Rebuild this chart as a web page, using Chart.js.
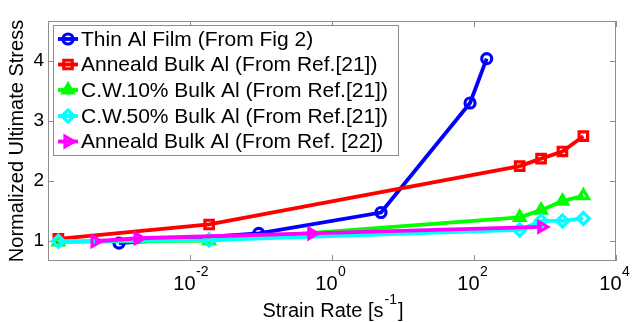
<!DOCTYPE html>
<html><head><meta charset="utf-8">
<script src="https://cdn.jsdelivr.net/npm/chart.js@4/dist/chart.umd.min.js"></script>
<style>html,body{margin:0;padding:0;background:#fff}#wrap{width:633px;height:322px}</style>
</head><body><div id="wrap"><canvas id="c" width="633" height="322"></canvas></div>
<script>
// ---- data ----
const seriesNames = [
  'Thin Al Film (From Fig 2)',
  'Anneald Bulk Al (From Ref.[21])',
  'C.W.10% Bulk Al (From Ref.[21])',
  'C.W.50% Bulk Al (From Ref.[21])',
  'Anneald Bulk Al (From Ref. [22])'
];
const thinFilmX = [0.001, 0.093, 4.9, 88, 151];
const thinFilmY = [0.96, 1.12, 1.47, 3.30, 4.04];
const annealed21X = [0.00014, 0.0186, 440, 880, 1760, 3470];
const annealed21Y = [1.03, 1.27, 2.245, 2.37, 2.49, 2.745];
const cw10X = [0.00014, 0.0186, 440, 880, 1760, 3470];
const cw10Y = [0.98, 1.0, 1.39, 1.51, 1.66, 1.75];
const cw50X = [0.00014, 0.0186, 440, 880, 1760, 3470];
const cw50Y = [0.99, 1.01, 1.18, 1.33, 1.33, 1.37];
const annealed22X = [0.00046, 0.00186, 0.52, 900];
const annealed22Y = [0.99, 1.04, 1.12, 1.23];
const xTickExponents = [-2, 0, 2, 4];
const yTickValues = [1, 2, 3, 4];
const xTitle = 'Strain Rate [s';
const xTitleSup = '-1';
const yTitle = 'Normalized Ultimate Stress';

const seriesX = [thinFilmX, annealed21X, cw10X, cw50X, annealed22X];
const seriesY = [thinFilmY, annealed21Y, cw10Y, cw50Y, annealed22Y];
const colors = ['#0000ff', '#ff0000', '#00ff00', '#00ffff', '#ff00ff'];
const styles = ['circle', 'rect', 'triangle', 'rectRot', 'triangle'];
const rotations = [0, 0, 0, 0, 90];
const radii = [5, 6, 6, 6, 6];
const MARKER_BW = 3.2;

const FONT = '"Liberation Sans", Arial, sans-serif';
const AXIS = '#8c8c8c';

const datasets = seriesNames.map((name, i) => ({
  label: name,
  data: seriesX[i].map((x, j) => ({x: x, y: seriesY[i][j]})),
  showLine: true,
  borderColor: colors[i],
  backgroundColor: colors[i],
  borderWidth: 3.8,
  pointStyle: styles[i],
  pointRotation: rotations[i],
  pointRadius: radii[i],
  pointBorderWidth: MARKER_BW,
  pointBorderColor: colors[i],
  pointBackgroundColor: 'rgba(0,0,0,0)',
  order: seriesNames.length - i
}));

const deco = {
  id: 'deco',
  beforeDatasetsDraw(chart) {
    const ctx = chart.ctx, a = chart.chartArea;
    const xs = chart.scales.x, ys = chart.scales.y;
    ctx.save();
    ctx.strokeStyle = AXIS;
    ctx.lineWidth = 1;
    ctx.strokeRect(Math.round(a.left) + 0.5, Math.round(a.top) + 0.5,
                   Math.round(a.right - a.left) - 1, Math.round(a.bottom - a.top) - 1);
    ctx.beginPath();
    xTickExponents.forEach(e => {
      const px = Math.round(xs.getPixelForValue(Math.pow(10, e))) + 0.5;
      ctx.moveTo(px, a.bottom); ctx.lineTo(px, a.bottom - 6);
      ctx.moveTo(px, a.top); ctx.lineTo(px, a.top + 6);
    });
    yTickValues.forEach(v => {
      const py = Math.round(ys.getPixelForValue(v)) + 0.5;
      ctx.moveTo(a.left, py); ctx.lineTo(a.left + 6, py);
      ctx.moveTo(a.right, py); ctx.lineTo(a.right - 6, py);
    });
    ctx.stroke();
    ctx.restore();
  },
  afterDraw(chart) {
    const ctx = chart.ctx, a = chart.chartArea;
    const xs = chart.scales.x;
    ctx.save();
    // x tick labels 10^e
    ctx.fillStyle = '#000';
    ctx.textBaseline = 'alphabetic';
    xTickExponents.forEach(e => {
      const px = xs.getPixelForValue(Math.pow(10, e));
      ctx.font = '20px ' + FONT;
      ctx.textAlign = 'right';
      ctx.fillText('10', px + 5.5, 290);
      ctx.font = '14px ' + FONT;
      ctx.textAlign = 'left';
      ctx.fillText(String(e), px + 6, 276);
    });
    // x title
    ctx.font = '20px ' + FONT;
    const w1 = ctx.measureText(xTitle).width;
    ctx.font = '14px ' + FONT;
    const w2 = ctx.measureText(xTitleSup).width;
    ctx.font = '20px ' + FONT;
    const w3 = ctx.measureText(']').width;
    const cx = (a.left + a.right) / 2;
    let sx = cx - (w1 + w2 + w3) / 2;
    ctx.textAlign = 'left';
    ctx.fillText(xTitle, sx, 317);
    ctx.font = '14px ' + FONT;
    ctx.fillText(xTitleSup, sx + w1 + 1, 304);
    ctx.font = '20px ' + FONT;
    ctx.fillText(']', sx + w1 + w2 + 2, 317);

    // legend
    const L = 53.5, T = 25.5, R = 398.5, B = 155.5;
    ctx.fillStyle = '#fff';
    ctx.fillRect(L, T, R - L, B - T);
    ctx.strokeStyle = AXIS;
    ctx.lineWidth = 1;
    ctx.strokeRect(L, T, R - L, B - T);
    const rowY = [39, 64.5, 90, 116, 141.5];
    seriesNames.forEach((name, i) => {
      const y = rowY[i];
      ctx.strokeStyle = colors[i];
      ctx.lineWidth = 3.8;
      ctx.beginPath();
      ctx.moveTo(58, y); ctx.lineTo(78, y);
      ctx.stroke();
      ctx.lineWidth = MARKER_BW;
      ctx.fillStyle = 'rgba(0,0,0,0)';
      Chart.helpers.drawPoint(ctx, {pointStyle: styles[i], rotation: rotations[i], radius: radii[i], borderWidth: MARKER_BW}, 68, y);
      ctx.fillStyle = '#000';
      ctx.font = '21px ' + FONT;
      ctx.textAlign = 'left';
      ctx.textBaseline = 'middle';
      ctx.fillText(name, 81, y + 1);
    });
    ctx.restore();
  }
};

new Chart(document.getElementById('c'), {
  type: 'scatter',
  data: {datasets},
  options: {
    responsive: false,
    animation: false,
    devicePixelRatio: 1,
    layout: {padding: {top: 21, right: 17, bottom: 0, left: 0}},
    plugins: {legend: {display: false}, tooltip: {enabled: false}},
    scales: {
      x: {
        type: 'logarithmic', min: 1e-4, max: 1e4,
        grid: {display: false, drawTicks: false},
        border: {display: false},
        ticks: {display: false},
        afterFit(s) { s.height = 61; }
      },
      y: {
        type: 'linear', min: 0.66, max: 4.67,
        grid: {display: false, drawTicks: false},
        border: {display: false},
        afterBuildTicks(s) { s.ticks = yTickValues.map(v => ({value: v})); },
        ticks: {color: '#000', font: {size: 19, family: FONT}, padding: 4},
        title: {display: true, text: yTitle, color: '#000', font: {size: 20, family: FONT}, padding: {top: 5, bottom: 0}},
        afterFit(s) { s.width = 48; }
      }
    }
  },
  plugins: [deco]
});
</script></body></html>
